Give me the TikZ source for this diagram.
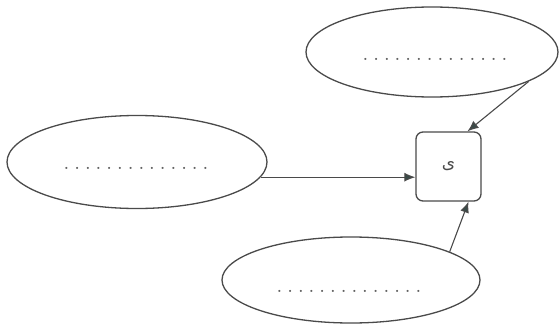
\documentclass[tikz,border=0pt]{standalone}
\usepackage{fontspec}
\usetikzlibrary{shapes.geometric,arrows.meta}
\newfontfamily\arabicfont[Script=Arabic]{DejaVu Sans}
\TeXXeTstate=1
\definecolor{inkgray}{HTML}{4A4A4A}
\definecolor{headgray}{HTML}{3A4A48}
\definecolor{dotgray}{HTML}{606060}
\newcommand\dotrow{{\fontsize{15pt}{15pt}\selectfont\bfseries\frenchspacing\spaceskip=6.0pt\relax . . . . . . . . . . . . . .}}
\tikzset{
  oval/.style={draw=inkgray, line width=1.3pt, ellipse, inner sep=0pt},
  dotlabel/.style={text=dotgray, inner sep=0pt},
  letterbox/.style={draw=inkgray, line width=1.3pt, rounded corners=7pt, minimum width=65pt, minimum height=69pt, inner sep=0pt},
  arr/.style={draw=inkgray, line width=1.1pt, -{Latex[length=11pt,width=9pt,fill=headgray]}}
}
\begin{document}
\begin{tikzpicture}[x=1pt,y=-1pt]
\useasboundingbox (0,0) rectangle (559,324);
\node[oval, minimum width=252pt, minimum height=90pt] (T) at (432,52) {};
\node[oval, minimum width=260pt, minimum height=93pt] (L) at (137,162) {};
\node[oval, minimum width=258pt, minimum height=86pt] (Bm) at (351,280) {};
\node[dotlabel] (tT) at (435,59) {\dotrow};
\node[dotlabel] (tL) at (136,168) {\dotrow};
\node[dotlabel] (tB) at (349,291) {\dotrow};
\node[letterbox] (B) at (448.5,166.5) {\fontsize{17pt}{17pt}\selectfont\color{inkgray}\arabicfont\beginR ی\endR};
\draw[arr] (L.-7) -- (L.-7 -| B.west);
\draw[arr] (T.-17) -- ([xshift=19pt]B.north);
\draw[arr] (Bm.16) -- ([xshift=20pt]B.south);
\end{tikzpicture}
\end{document}
